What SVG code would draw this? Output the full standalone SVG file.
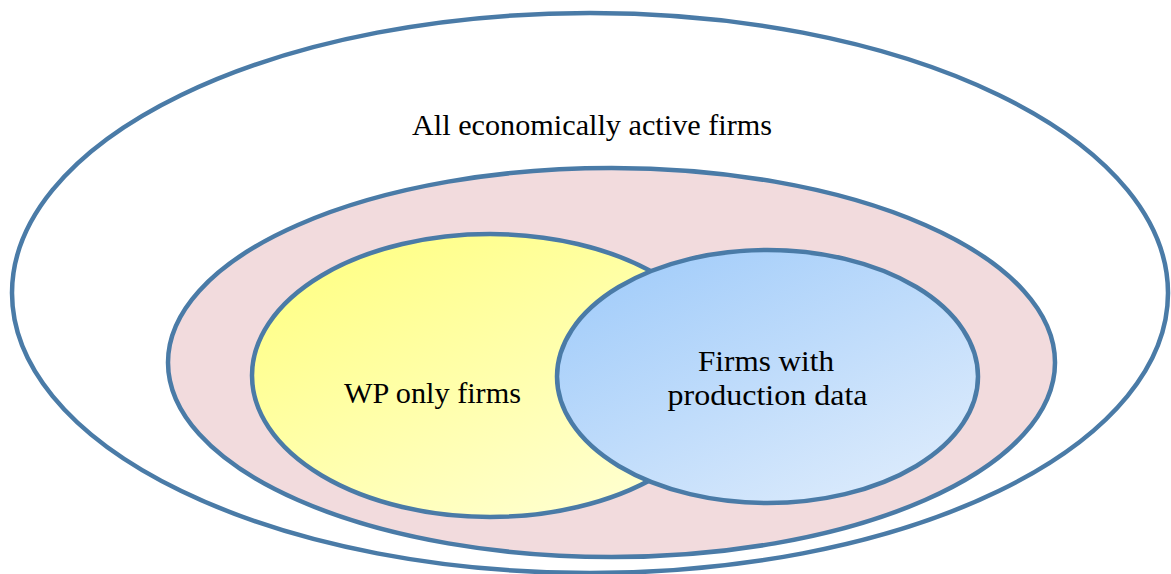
<svg xmlns="http://www.w3.org/2000/svg" width="1171" height="574" viewBox="0 0 1171 574">
<defs>
<linearGradient id="gy" x1="0.15" y1="0.1" x2="0.85" y2="0.95">
<stop offset="0" stop-color="#FFFF88"/>
<stop offset="1" stop-color="#FFFFD2"/>
</linearGradient>
<linearGradient id="gb" x1="0.15" y1="0.1" x2="0.85" y2="0.95">
<stop offset="0" stop-color="#A5CEFA"/>
<stop offset="1" stop-color="#DCEBFC"/>
</linearGradient>
<style>
.e{stroke:#4A7BA7;stroke-width:4.5}
.t{font-family:"Liberation Serif","DejaVu Serif",serif;font-size:29px;fill:#000}
</style>
</defs>
<rect width="1171" height="574" fill="#fff"/>
<g id="all-firms">
<ellipse class="e" cx="590" cy="293" rx="578" ry="280" fill="#fff"/>
<text class="t" x="592" y="135" text-anchor="middle" textLength="360" lengthAdjust="spacingAndGlyphs">All economically active firms</text>
</g>
<g id="pink-set">
<ellipse class="e" cx="611.5" cy="362.5" rx="443.5" ry="194.5" fill="#F2DBDD"/>
</g>
<g id="wp-only">
<ellipse class="e" cx="490" cy="375.5" rx="238" ry="141.5" fill="url(#gy)"/>
<text class="t" x="432.5" y="402.5" text-anchor="middle" textLength="177" lengthAdjust="spacingAndGlyphs">WP only firms</text>
</g>
<g id="production">
<ellipse class="e" cx="767.5" cy="376.5" rx="210.5" ry="126.5" fill="url(#gb)"/>
<text class="t" x="766" y="370.5" text-anchor="middle" textLength="136" lengthAdjust="spacingAndGlyphs">Firms with</text>
<text class="t" x="767.5" y="405" text-anchor="middle" textLength="200" lengthAdjust="spacingAndGlyphs">production data</text>
</g>
<g id="connectors"/>
</svg>
